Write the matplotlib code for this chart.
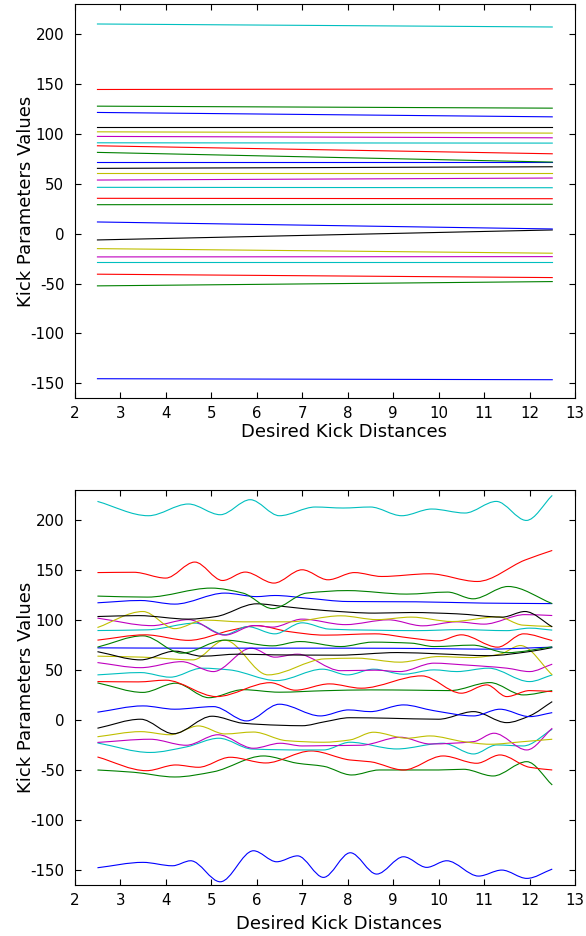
import numpy as np
import matplotlib
matplotlib.use("Agg")
import matplotlib.pyplot as plt
from matplotlib.path import Path
from matplotlib.patches import PathPatch

plt.rcParams['axes.unicode_minus'] = False

# classic colour cycle, curves listed from lowest to highest (top panel order)
cycle = ['#0000ff', '#008000', '#ff0000', '#00bfbf', '#bf00bf', '#bfbf00', '#000000']

# top panel: straight fits, value at x=2.5 and x=12.5
top_x = [2.5, 12.5]
top_start = [-145.3, -52.3, -40.6, -28.0, -23.3, -15.0, -6.3, 11.7, 29.0, 35.4,
             46.4, 53.7, 60.7, 65.4, 71.4, 81.4, 88.0, 91.0, 97.4, 102.0,
             106.7, 121.4, 127.7, 144.4, 210.0]
top_end = [-146.3, -48.0, -44.0, -28.0, -23.0, -19.6, 3.7, 4.7, 29.4, 35.0,
           46.0, 55.7, 60.7, 67.0, 71.4, 71.7, 80.0, 90.7, 96.0, 100.7,
           106.7, 117.0, 125.7, 145.0, 207.0]

# bottom panel: knots (x, value)
bot_x = [
    [2.5, 3.5, 4.15, 4.55, 5.2, 5.93, 6.44, 6.9, 7.47, 8.06, 8.64, 9.23, 9.74, 10.18, 10.88, 11.39, 11.94, 12.5],
    [2.5, 3.3, 4.2, 5.05, 6.15, 6.9, 7.47, 8.09, 8.7, 10.0, 10.55, 11.2, 11.94, 12.5],
    [2.5, 3.58, 4.22, 4.72, 5.42, 6.2, 7.2, 8.05, 8.5, 9.23, 10.1, 10.84, 11.35, 12.0, 12.5],
    [2.5, 3.66, 4.45, 5.17, 5.9, 7.0, 7.47, 8.05, 9.08, 10.1, 10.77, 11.28, 11.86, 12.5],
    [2.5, 3.66, 4.45, 5.15, 5.93, 6.52, 7.0, 7.5, 8.3, 9.16, 9.81, 10.77, 11.22, 11.94, 12.5],
    [2.5, 3.45, 4.1, 4.72, 5.3, 5.93, 6.65, 7.47, 8.05, 8.57, 9.3, 9.81, 10.55, 11.13, 11.86, 12.5],
    [2.5, 3.45, 4.17, 5.02, 5.7, 6.5, 7.0, 7.5, 8.05, 8.9, 10.0, 10.77, 11.5, 12.0, 12.5],
    [2.5, 3.5, 4.2, 5.05, 5.78, 6.5, 7.4, 8.02, 8.5, 9.23, 9.89, 10.77, 11.35, 12.0, 12.5],
    [2.5, 3.5, 4.22, 4.95, 5.7, 6.5, 7.5, 8.5, 9.5, 10.25, 11.13, 11.86, 12.5],
    [2.5, 3.4, 4.0, 5.12, 6.3, 6.85, 7.6, 8.3, 9.63, 10.5, 11.06, 11.5, 12.0, 12.5],
    [2.5, 3.45, 4.1, 4.8, 5.4, 6.44, 7.45, 8.0, 8.57, 9.23, 9.9, 10.4, 11.1, 12.0, 12.5],
    [2.5, 3.45, 4.35, 5.05, 5.88, 6.4, 6.9, 7.85, 8.6, 9.15, 9.9, 10.55, 11.5, 12.0, 12.5],
    [2.5, 3.5, 4.6, 5.3, 6.25, 7.5, 8.2, 9.15, 10.0, 10.7, 11.35, 11.8, 12.5],
    [2.5, 3.45, 4.2, 4.8, 5.6, 6.4, 7.8, 9.1, 10.0, 11.1, 12.0, 12.5],
    [2.5, 4.5, 6.0, 8.0, 10.0, 11.0, 12.5],
    [2.5, 3.5, 4.35, 5.3, 6.35, 6.95, 7.85, 8.55, 9.4, 9.9, 10.75, 11.5, 12.5],
    [2.5, 3.55, 4.5, 5.45, 6.0, 6.7, 7.5, 8.6, 9.4, 10.0, 10.5, 11.3, 11.87, 12.5],
    [2.5, 3.6, 4.65, 5.3, 5.8, 6.4, 7.0, 7.6, 8.5, 9.5, 10.5, 11.5, 12.0, 12.5],
    [2.5, 3.7, 4.5, 5.3, 5.95, 6.35, 7.0, 7.95, 8.9, 9.65, 10.4, 11.0, 11.9, 12.5],
    [2.5, 3.5, 4.2, 4.85, 5.7, 6.7, 7.85, 8.65, 9.4, 10.3, 11.3, 11.85, 12.5],
    [2.5, 3.4, 4.5, 5.1, 6.0, 6.6, 7.5, 8.6, 9.4, 10.4, 11.4, 11.9, 12.5],
    [2.5, 3.45, 4.2, 5.3, 6.0, 6.4, 7.1, 8.0, 9.5, 11.0, 12.5],
    [2.5, 3.6, 5.0, 5.7, 6.35, 7.1, 8.0, 9.3, 10.2, 10.76, 11.53, 12.5],
    [2.5, 3.3, 4.0, 4.64, 5.25, 5.75, 6.38, 7.0, 7.57, 8.15, 8.75, 9.8, 10.85, 11.9, 12.5],
    [2.5, 3.62, 4.5, 5.2, 5.86, 6.5, 7.29, 7.9, 8.5, 9.19, 9.85, 10.58, 11.27, 11.93, 12.5],
]
bot_y = [
    [-147.4, -142, -145.4, -140.4, -161.4, -130.4, -141.4, -135.5, -157, -132.4, -153.7, -136.4, -147, -140.4, -155.7, -149.7, -158, -148.7],
    [-49.7, -52, -56.7, -51.5, -35.7, -43, -46, -54.7, -49.7, -49.7, -49, -55.7, -41.4, -64.7],
    [-36.7, -50.4, -44.7, -47, -37, -42.7, -30.7, -39.7, -41.5, -49.7, -35.7, -43, -34.7, -47, -49.7],
    [-22.7, -32.2, -26.7, -18, -28.8, -29.7, -29.7, -22, -28.7, -23, -33.7, -24.7, -25.7, -9],
    [-22.2, -19, -25, -14.5, -28, -23, -25.7, -25.4, -25, -17, -23.7, -21.4, -13, -29.7, -8],
    [-16.5, -11.4, -14.5, -5.7, -13.7, -11.8, -20.4, -22, -19.7, -12, -18, -15.7, -21.4, -24, -21.4, -19],
    [-8, 1, -13.5, 4, -3, -5, -5.5, -1.5, 2.5, 2, 1, 8.6, -2.4, 4.3, 18.6],
    [8, 14.3, 11, 13.6, -0.7, 16, 4.3, 10.3, 8.6, 15.3, 9.6, 4.3, 11, 3.6, 7.6],
    [37.3, 27.8, 37, 22.5, 30.5, 28, 29.5, 30.3, 30, 29.6, 37.6, 25.3, 29.6],
    [38.6, 38.3, 40, 23.6, 37.5, 30, 36.3, 32, 44.3, 27, 35.3, 23.6, 29.6, 28.6],
    [45.3, 47.6, 43, 52, 50.3, 39.6, 51, 45.3, 51, 46, 50.3, 48.6, 52, 38.6, 45.3],
    [57.6, 52.5, 58.5, 48.6, 72, 63, 66, 49.5, 50, 48.6, 57, 55.3, 52, 48.6, 56],
    [64, 63, 60.3, 80, 45.3, 61.3, 62, 58, 63.6, 62.6, 66, 74.6, 45.3],
    [68.5, 60.3, 69, 64, 66, 65.3, 65, 67.6, 66.3, 64.5, 68.6, 72.6],
    [72.3, 72, 72, 72, 71.5, 71, 73],
    [73, 84.3, 67, 80, 74.3, 78.6, 73.6, 78, 77, 73.6, 75, 67.5, 73.3],
    [80, 85.3, 79.8, 90, 94.5, 88.6, 85, 86.3, 82, 79.3, 85.3, 73, 86.3, 79.6],
    [89.6, 90.3, 97, 85.5, 93.5, 86.3, 97.3, 91, 90, 89.5, 90.5, 89.5, 92, 90],
    [102, 94.5, 100.5, 85, 94.6, 93, 101, 95.5, 100.3, 94.3, 98.3, 96, 105.5, 104.6],
    [92.6, 108.6, 91.5, 100, 98.3, 98.3, 104.3, 100.5, 103, 98.6, 103.3, 95, 93.6],
    [103.6, 104.5, 101, 103.5, 116.3, 113.6, 109.6, 107, 107.6, 106.3, 103, 108.6, 93.3],
    [117.3, 119.6, 116, 127, 123.5, 124.6, 122, 118.6, 118.3, 117, 116.5],
    [124, 123, 132, 127, 111.5, 127, 129.5, 126, 128, 121.3, 133.6, 116.5],
    [147.5, 147.8, 142, 158, 139.6, 148, 137, 150.3, 140.3, 147.5, 143.6, 146.3, 138.6, 160, 169.6],
    [218.6, 204.3, 216, 205.3, 220.3, 204.3, 213, 212, 213, 204.3, 211, 207, 218.6, 199.6, 224.6],
]

xticks = list(range(2, 14))
yticks = [-150, -100, -50, 0, 50, 100, 150, 200]


def smooth_line(ax, xs, ys, color):
    # monotone cubic through the knots, drawn as bezier segments
    xs = np.asarray(xs, float)
    ys = np.asarray(ys, float)
    h = np.diff(xs)
    d = np.diff(ys) / h
    m = np.zeros_like(ys)
    m[0] = d[0]
    m[-1] = d[-1]
    for k in range(1, len(xs) - 1):
        if d[k - 1] * d[k] > 0:
            w1 = 2 * h[k] + h[k - 1]
            w2 = h[k] + 2 * h[k - 1]
            m[k] = (w1 + w2) / (w1 / d[k - 1] + w2 / d[k])
    verts = [(xs[0], ys[0])]
    codes = [Path.MOVETO]
    for k in range(len(xs) - 1):
        verts += [(xs[k] + h[k] / 3, ys[k] + m[k] * h[k] / 3),
                  (xs[k + 1] - h[k] / 3, ys[k + 1] - m[k + 1] * h[k] / 3),
                  (xs[k + 1], ys[k + 1])]
        codes += [Path.CURVE4] * 3
    ax.add_patch(PathPatch(Path(verts, codes), fill=False, edgecolor=color, lw=0.8))


def style_axes(ax, xlab_pos):
    ax.set_xlim(2, 13)
    ax.set_ylim(-164.6, 230)
    ax.set_xticks(xticks)
    ax.set_yticks(yticks)
    ax.tick_params(direction='in', top=True, right=True, length=4, width=0.8,
                   labelsize=10.8)
    ax.tick_params(axis='x', pad=6)
    ax.tick_params(axis='y', pad=7.5)
    for s in ax.spines.values():
        s.set_linewidth(0.8)
    ax.set_xlabel('Desired Kick Distances', fontsize=13)
    ax.set_ylabel('Kick Parameters Values', fontsize=13)
    ax.xaxis.set_label_coords(*xlab_pos)
    ax.yaxis.set_label_coords(-0.079, 0.5)


fig = plt.figure(figsize=(5.86, 9.36), dpi=100)
ax1 = fig.add_axes([0.1275, 0.5748, 0.8537, 0.4209])
ax2 = fig.add_axes([0.1275, 0.0545, 0.8537, 0.4220])

for i in range(len(top_start)):
    ax1.plot(top_x, [top_start[i], top_end[i]], color=cycle[i % 7], lw=0.8)
style_axes(ax1, (0.538, -0.064))

for i in range(len(bot_x)):
    smooth_line(ax2, bot_x[i], bot_y[i], cycle[i % 7])
style_axes(ax2, (0.528, -0.075))

fig.savefig('out.png', dpi=100)
